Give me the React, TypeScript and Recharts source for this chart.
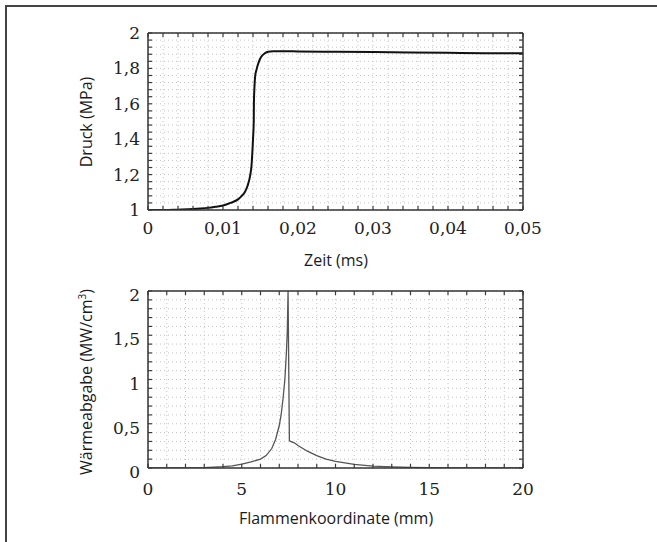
import { LineChart, Line, XAxis, YAxis, CartesianGrid } from 'recharts'

// Druck über Zeit
const zeit = [0, 0.002, 0.004, 0.006, 0.007, 0.008, 0.009, 0.01, 0.011, 0.012, 0.0125, 0.0129, 0.0133, 0.0136, 0.0138, 0.014, 0.0141, 0.01412, 0.0142, 0.0143, 0.01445, 0.0148, 0.0151, 0.0156, 0.016, 0.0167, 0.018, 0.02, 0.025, 0.03, 0.035, 0.04, 0.045, 0.05]
const druck = [1.0, 1.0, 1.002, 1.005, 1.008, 1.012, 1.018, 1.025, 1.04, 1.06, 1.08, 1.1, 1.14, 1.19, 1.25, 1.4, 1.5, 1.6, 1.7, 1.76, 1.79, 1.84, 1.866, 1.886, 1.894, 1.897, 1.897, 1.896, 1.894, 1.892, 1.89, 1.888, 1.886, 1.885]

// Wärmeabgabe über Flammenkoordinate
const koordinate = [0, 2, 3, 4, 4.5, 5, 5.5, 6, 6.3, 6.6, 6.8, 7.0, 7.1, 7.2, 7.3, 7.38, 7.43, 7.47, 7.54, 7.6, 7.8, 8.0, 8.5, 9, 9.5, 10, 11, 12, 13, 14, 15, 17, 20]
const waerme = [0, 0.002, 0.005, 0.015, 0.025, 0.045, 0.07, 0.1, 0.14, 0.22, 0.32, 0.48, 0.6, 0.78, 1.0, 1.3, 1.55, 2.0, 0.31, 0.3, 0.285, 0.255, 0.19, 0.14, 0.1, 0.075, 0.04, 0.022, 0.012, 0.006, 0.003, 0.001, 0]

const zeitMajor = [0, 0.01, 0.02, 0.03, 0.04, 0.05]
const druckMajor = [1, 1.2, 1.4, 1.6, 1.8, 2]
const koordMajor = [0, 5, 10, 15, 20]
const waermeMajor = [0, 0.5, 1, 1.5, 2]

const druckData = zeit.map((t, i) => ({ t, p: druck[i] }))
const waermeData = koordinate.map((x, i) => ({ x, q: waerme[i] }))

// minor ticks: 5 steps between major ticks
const withMinor = (major: number[]) => {
  const out: number[] = []
  for (let i = 0; i < major.length - 1; i++) {
    const step = (major[i + 1] - major[i]) / 5
    for (let k = 0; k < 5; k++) out.push(+(major[i] + k * step).toFixed(6))
  }
  out.push(major[major.length - 1])
  return out
}

const fmt = (v: number) => String(+v.toFixed(4)).replace('.', ',')
const isMajor = (v: number, major: number[]) => major.some((m) => Math.abs(m - v) < 1e-9)

const tickFont = { fontFamily: '"DejaVu Serif", serif', fontSize: 17, fill: '#222' }
const frame = '#333'
const TS = -4 // inward tick length

// labels only; tick lines come from recharts (negative tickSize = inward)
const bottomLabel = (major: number[], dy: number) => (props: any) => {
  const { x, y, payload } = props
  if (!isMajor(payload.value, major)) return <g />
  return <text x={x} y={y - TS + dy} textAnchor="middle" {...tickFont}>{fmt(payload.value)}</text>
}
const leftLabel = (major: number[], dy: number) => (props: any) => {
  const { x, y, payload } = props
  if (!isMajor(payload.value, major)) return <g />
  return <text x={x + TS - 8} y={y + dy} textAnchor="end" {...tickFont}>{fmt(payload.value)}</text>
}
const noLabel = () => <g />

const titleStyle: React.CSSProperties = {
  position: 'absolute',
  fontFamily: '"Open Sans", sans-serif',
  fontSize: 16,
  color: '#1a1a1a',
  whiteSpace: 'nowrap',
  transform: 'translate(-50%, -50%)',
}

export default function App() {
  const zTicks = withMinor(zeitMajor)
  const dTicks = withMinor(druckMajor)
  const kTicks = withMinor(koordMajor)
  const wTicks = withMinor(waermeMajor)
  const axisLine = { stroke: frame, strokeWidth: 1.5 }
  const tickLine = { stroke: '#3a3a3a', strokeWidth: 1.2 }
  const common = { interval: 0 as const, tickSize: TS, tickMargin: 0, allowDataOverflow: true, axisLine, tickLine }

  return (
    <div style={{ position: 'absolute', left: 0, top: 0, width: 657, height: 542, background: '#fff', overflow: 'hidden' }}>
      <div style={{ position: 'absolute', left: 5, top: 5, right: 0, height: 2, background: '#444' }} />
      <div style={{ position: 'absolute', left: 5, top: 5, bottom: 0, width: 2, background: '#444' }} />

      <div style={{ position: 'absolute', left: 0, top: 0 }}>
        <LineChart width={657} height={270} data={druckData} margin={{ top: 32, left: 147, right: 133, bottom: 59 }}>
          <CartesianGrid stroke="#c4c4c4" strokeDasharray="1 3" />
          <XAxis dataKey="t" type="number" domain={[0, 0.05]} ticks={zTicks} height={1} {...common} tick={bottomLabel(zeitMajor, 24)} />
          <XAxis xAxisId="top" dataKey="t" orientation="top" type="number" domain={[0, 0.05]} ticks={zTicks} height={1} {...common} tick={noLabel} />
          <YAxis type="number" domain={[1, 2]} ticks={dTicks} width={1} {...common} tick={leftLabel(druckMajor, 6)} />
          <YAxis yAxisId="right" orientation="right" type="number" domain={[1, 2]} ticks={dTicks} width={1} {...common} tick={noLabel} />
          <Line xAxisId="top" yAxisId="right" type="monotone" dataKey="p" stroke="none" dot={false} activeDot={false} isAnimationActive={false} />
          <Line type="monotone" dataKey="p" stroke="#111" strokeWidth={2} dot={false} isAnimationActive={false} />
        </LineChart>
      </div>

      <div style={{ position: 'absolute', left: 0, top: 270 }}>
        <LineChart width={657} height={272} data={waermeData} margin={{ top: 20, left: 147, right: 133, bottom: 73 }}>
          <CartesianGrid stroke="#c4c4c4" strokeDasharray="1 3" />
          <XAxis dataKey="x" type="number" domain={[0, 20]} ticks={kTicks} height={1} {...common} tick={bottomLabel(koordMajor, 27)} />
          <XAxis xAxisId="top" dataKey="x" orientation="top" type="number" domain={[0, 20]} ticks={kTicks} height={1} {...common} tick={noLabel} />
          <YAxis type="number" domain={[0, 2]} ticks={wTicks} width={1} {...common} tick={leftLabel(waermeMajor, 10)} />
          <YAxis yAxisId="right" orientation="right" type="number" domain={[0, 2]} ticks={wTicks} width={1} {...common} tick={noLabel} />
          <Line xAxisId="top" yAxisId="right" type="linear" dataKey="q" stroke="none" dot={false} activeDot={false} isAnimationActive={false} />
          <Line type="linear" dataKey="q" stroke="#555" strokeWidth={1.3} dot={false} isAnimationActive={false} />
        </LineChart>
      </div>

      <div style={{ ...titleStyle, left: 336, top: 260 }}>Zeit (ms)</div>
      <div style={{ ...titleStyle, left: 336, top: 518 }}>Flammenkoordinate (mm)</div>
      <div style={{ ...titleStyle, left: 86, top: 122, transform: 'translate(-50%, -50%) rotate(-90deg)' }}>Druck (MPa)</div>
      <div style={{ ...titleStyle, left: 86, top: 382, transform: 'translate(-50%, -50%) rotate(-90deg)' }}>
        Wärmeabgabe (MW/cm<sup style={{ fontSize: 10 }}>3</sup>)
      </div>
    </div>
  )
}
